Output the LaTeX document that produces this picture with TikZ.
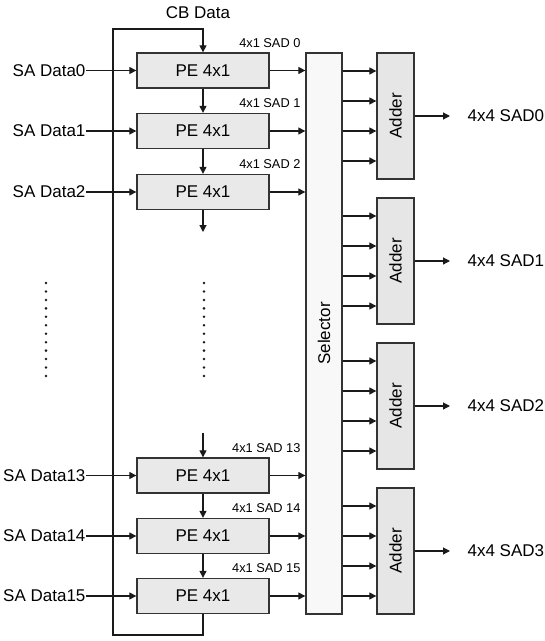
\documentclass[tikz,border=0pt]{standalone}
\usepackage{fontspec}
\setmainfont{Liberation Sans}
\usetikzlibrary{arrows.meta,calc}
\definecolor{linec}{HTML}{1A1A1A}
\definecolor{boxc}{HTML}{333333}
\definecolor{pefill}{HTML}{E9E9E9}
\definecolor{selfill}{HTML}{F8F8F8}
\definecolor{addfill}{HTML}{E6E6E6}
\begin{document}
\begin{tikzpicture}[x=1pt,y=-1pt,
  line width=1.1pt,
  conn/.style={draw=linec, line width=1.2pt},
  arr/.style={conn, -{Triangle[length=7pt,width=7pt]}},
  mainfont/.style={font=\fontsize{17}{19}\selectfont},
  pebox/.style={draw=boxc, line width=1.3pt, fill=pefill, minimum width=132pt, minimum height=35pt, inner sep=0pt, mainfont},
  selbox/.style={draw=boxc, line width=1.3pt, fill=selfill, minimum width=36pt, minimum height=561pt, inner sep=0pt},
  addbox/.style={draw=boxc, line width=1.3pt, fill=addfill, minimum width=37pt, minimum height=126pt, inner sep=0pt},
  salabel/.style={anchor=east, inner sep=0pt, mainfont},
  sadlabel/.style={anchor=east, inner sep=0pt, font=\fontsize{12.8}{14}\selectfont},
  outlabel/.style={anchor=west, inner sep=0pt, mainfont},
  dotstyle/.style={fill=linec}
]
\useasboundingbox (0,0) rectangle (545,641);

% CB Data title
\node[mainfont, inner sep=0pt] (cb) at (198,13) {CB Data};

% PE boxes
\node[pebox] (pe0) at (203,70.5) {PE 4x1};
\node[pebox] (pe1) at (203,131) {PE 4x1};
\node[pebox] (pe2) at (203,192) {PE 4x1};
\node[pebox] (pe13) at (203,475.5) {PE 4x1};
\node[pebox] (pe14) at (203,536) {PE 4x1};
\node[pebox] (pe15) at (203,596) {PE 4x1};

% SA data labels
\node[salabel] (sa0) at (86,70.5) {SA Data0};
\node[salabel] (sa1) at (86,131) {SA Data1};
\node[salabel] (sa2) at (86,192) {SA Data2};
\node[salabel] (sa13) at (86,475.5) {SA Data13};
\node[salabel] (sa14) at (86,536) {SA Data14};
\node[salabel] (sa15) at (86,596) {SA Data15};

% 4x1 SAD labels
\node[sadlabel] (l0) at (301,43) {4x1 SAD 0};
\node[sadlabel] (l1) at (301,103.5) {4x1 SAD 1};
\node[sadlabel] (l2) at (301,164.5) {4x1 SAD 2};
\node[sadlabel] (l13) at (301,448) {4x1 SAD 13};
\node[sadlabel] (l14) at (301,508.5) {4x1 SAD 14};
\node[sadlabel] (l15) at (301,568.5) {4x1 SAD 15};

% Selector
\node[selbox, label={[rotate=90, mainfont]center:Selector}] (sel) at (324,333.5) {};

% Adders
\node[addbox, label={[rotate=90, mainfont]center:Adder}] (ad0) at (395.5,116) {};
\node[addbox, label={[rotate=90, mainfont]center:Adder}] (ad1) at (395.5,261) {};
\node[addbox, label={[rotate=90, mainfont]center:Adder}] (ad2) at (395.5,406) {};
\node[addbox, label={[rotate=90, mainfont]center:Adder}] (ad3) at (395.5,551) {};

% outputs
\coordinate (o0) at (450,116);
\coordinate (o1) at (450,261);
\coordinate (o2) at (450,406);
\coordinate (o3) at (450,551);
\node[outlabel] (t0) at (467,116) {4x4 SAD0};
\node[outlabel] (t1) at (467,261) {4x4 SAD1};
\node[outlabel] (t2) at (467,406) {4x4 SAD2};
\node[outlabel] (t3) at (467,551) {4x4 SAD3};
\foreach \k in {0,1,2,3} {\draw[arr] (ad\k.east) -- (o\k);}

% SA inputs and PE outputs to selector
\foreach \p in {0,1,2,13,14,15} {
  \draw[arr] (sa\p.east) -- (pe\p.west);
  \draw[arr] (pe\p.east) -- (pe\p.east -| sel.west);
}

% PE chain
\draw[arr] (pe0.south) -- (pe1.north);
\draw[arr] (pe1.south) -- (pe2.north);
\coordinate (c2) at (203,232);
\draw[arr] (pe2.south) -- (c2);
\coordinate (c13) at (203,433);
\draw[arr] (c13) -- (pe13.north);
\draw[arr] (pe13.south) -- (pe14.north);
\draw[arr] (pe14.south) -- (pe15.north);

% feedback loop
\coordinate (fb1) at (203,635);
\coordinate (fb2) at (113,635);
\coordinate (fb3) at (113,29);
\coordinate (fb4) at (203,29);
\draw[arr] (pe15.south) -- (fb1) -- (fb2) -- (fb3) -- (fb4) -- (pe0.north);

% selector to adders
\foreach \k in {0,1,2,3} {
  \foreach \d in {-45,-15,15,45} {
    \coordinate (tmp) at ($(ad\k.center)+(0,\d)$);
    \draw[arr] (tmp -| sel.east) -- (tmp -| ad\k.west);
  }
}

% ellipsis dots
\foreach \i in {0,...,11} {
  \fill[dotstyle] (46,283+8.45*\i) circle (1.4pt);
  \fill[dotstyle] (204,283+8.45*\i) circle (1.4pt);
}
\end{tikzpicture}
\end{document}
